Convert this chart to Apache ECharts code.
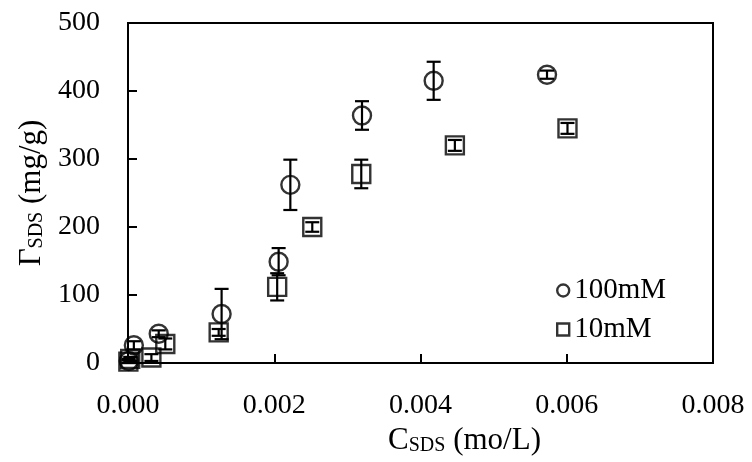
<!DOCTYPE html>
<html>
<head>
<meta charset="utf-8">
<script src="https://cdn.jsdelivr.net/npm/echarts@6/dist/echarts.min.js"></script>
<style>
html,body{margin:0;padding:0;background:#fff;}
#chart{width:752px;height:462px;}
</style>
</head>
<body>
<div id="chart"></div>
<script>
// 100mM series
const c100X = [0.00001, 0.00008, 0.00042, 0.00128, 0.00206, 0.00222, 0.00320, 0.00418, 0.00573];
const c100Y = [3, 26, 43, 72, 149, 262, 364, 415, 424];
const c100Err = [3, 6, 5, 37, 20, 37, 21, 28, 6];
// 10mM series
const c10X = [0.000005, 0.00003, 0.00032, 0.00051, 0.00124, 0.00204, 0.00252, 0.00319, 0.00447, 0.00601];
const c10Y = [2, 6, 8, 28, 45, 112, 200, 278, 320, 345];
const c10Err = [2, 3, 5, 8, 5, 20, 7, 21, 8, 8];
const seriesNames = ['100mM', '10mM'];
const xAxisRange = [0, 0.008, 0.002];
const yAxisRange = [0, 500, 100];

const FONT = '"Liberation Serif", "Times New Roman", serif';

function pts(xs, ys) { return xs.map((x, i) => [x, ys[i]]); }
function errPts(xs, ys, es) { return xs.map((x, i) => [x, ys[i], es[i]]); }

function renderErr(params, api) {
  const x = api.value(0), y = api.value(1), e = api.value(2);
  const top = api.coord([x, y + e]);
  const bot = api.coord([x, y - e]);
  const hw = 7;
  const st = { stroke: '#000', lineWidth: 2.2 };
  return {
    type: 'group',
    children: [
      { type: 'line', shape: { x1: top[0], y1: top[1], x2: bot[0], y2: bot[1] }, style: st },
      { type: 'line', shape: { x1: top[0] - hw, y1: top[1], x2: top[0] + hw, y2: top[1] }, style: st },
      { type: 'line', shape: { x1: bot[0] - hw, y1: bot[1], x2: bot[0] + hw, y2: bot[1] }, style: st }
    ]
  };
}

const markerStyle = { color: 'rgba(0,0,0,0)', borderColor: '#000', borderWidth: 2.4 };

const chart = echarts.init(document.getElementById('chart'), null, { renderer: 'canvas' });
chart.setOption({
  animation: false,
  backgroundColor: '#fff',
  textStyle: { fontFamily: FONT, color: '#000' },
  grid: {
    left: 128, right: 39, top: 23, bottom: 99,
    show: true, borderColor: '#000', borderWidth: 2, containLabel: false
  },
  legend: {
    orient: 'vertical',
    left: 551, top: 271,
    itemWidth: 12, itemHeight: 12,
    itemGap: 10,
    selectedMode: false,
    textStyle: { fontFamily: FONT, fontSize: 29, color: '#000' },
    data: [
      { name: seriesNames[0], icon: 'circle', itemStyle: { color: '#fff', borderColor: '#000', borderWidth: 2.4 } },
      { name: seriesNames[1], icon: 'rect', itemStyle: { color: '#fff', borderColor: '#000', borderWidth: 2.4 } }
    ]
  },
  xAxis: {
    type: 'value',
    min: xAxisRange[0], max: xAxisRange[1], interval: xAxisRange[2],
    name: '{m|C}{s|SDS}{m| (mo/L)}',
    nameLocation: 'middle',
    nameGap: 55,
    nameTextStyle: {
      padding: [0, 0, 0, 88],
      rich: {
        m: { fontFamily: FONT, fontSize: 31, color: '#000', lineHeight: 36, verticalAlign: 'bottom' },
        s: { fontFamily: FONT, fontSize: 20, color: '#000', lineHeight: 27, verticalAlign: 'bottom' }
      }
    },
    axisLine: { show: true, onZero: false, lineStyle: { color: '#000', width: 2 } },
    axisTick: { show: true, inside: true, length: 9, lineStyle: { color: '#000', width: 2 } },
    axisLabel: {
      fontFamily: FONT, fontSize: 28, color: '#000', margin: 29,
      formatter: v => v.toFixed(3)
    },
    splitLine: { show: false }
  },
  yAxis: {
    type: 'value',
    min: yAxisRange[0], max: yAxisRange[1], interval: yAxisRange[2],
    name: '{m|Γ}{s|SDS}{m| (mg/g)}',
    nameLocation: 'middle',
    nameRotate: 90,
    nameGap: 80,
    nameTextStyle: {
      rich: {
        m: { fontFamily: FONT, fontSize: 31, color: '#000', lineHeight: 36, verticalAlign: 'bottom' },
        s: { fontFamily: FONT, fontSize: 20, color: '#000', lineHeight: 27, verticalAlign: 'bottom' }
      }
    },
    axisLine: { show: true, onZero: false, lineStyle: { color: '#000', width: 2 } },
    axisTick: { show: true, inside: true, length: 9, lineStyle: { color: '#000', width: 2 } },
    axisLabel: { fontFamily: FONT, fontSize: 28, color: '#000', margin: 28 },
    splitLine: { show: false }
  },
  series: [
    {
      name: seriesNames[0], type: 'scatter', symbol: 'circle', symbolSize: 18,
      itemStyle: markerStyle, data: pts(c100X, c100Y), z: 3
    },
    {
      name: seriesNames[1], type: 'scatter', symbol: 'rect', symbolSize: 18,
      itemStyle: markerStyle, data: pts(c10X, c10Y), z: 3
    },
    {
      name: 'err100', type: 'custom', renderItem: renderErr,
      encode: { x: 0, y: 1 }, data: errPts(c100X, c100Y, c100Err), z: 2, silent: true
    },
    {
      name: 'err10', type: 'custom', renderItem: renderErr,
      encode: { x: 0, y: 1 }, data: errPts(c10X, c10Y, c10Err), z: 2, silent: true
    }
  ]
});
</script>
</body>
</html>
